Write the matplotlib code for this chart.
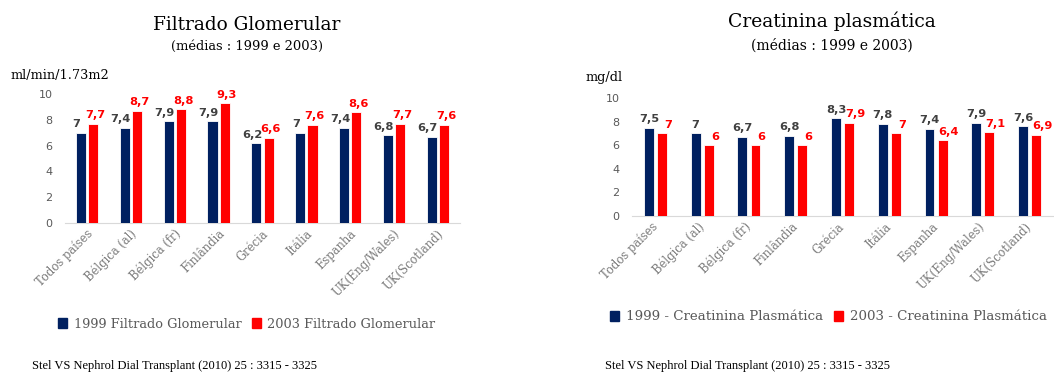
import matplotlib
matplotlib.use("Agg")
import matplotlib.pyplot as plt
from matplotlib.patches import Patch
import numpy as np

categories = ["Todos países", "Bélgica (al)", "Bélgica (fr)", "Finlândia", "Grécia",
              "Itália", "Espanha", "UK(Eng/Wales)", "UK(Scotland)"]

fg_1999 = [7.0, 7.4, 7.9, 7.9, 6.2, 7.0, 7.4, 6.8, 6.7]
fg_2003 = [7.7, 8.7, 8.8, 9.3, 6.6, 7.6, 8.6, 7.7, 7.6]

cr_1999 = [7.5, 7.0, 6.7, 6.8, 8.3, 7.8, 7.4, 7.9, 7.6]
cr_2003 = [7.0, 6.0, 6.0, 6.0, 7.9, 7.0, 6.4, 7.1, 6.9]

yticks = [0, 2, 4, 6, 8, 10]

NAVY = "#002060"
RED = "#FF0000"
GREY_TXT = "#595959"
SERIF = "DejaVu Serif"

W, H = 1054, 372
fig = plt.figure(figsize=(W / 100, H / 100), dpi=100)


def px_axes(x0, x1, y_top, y_bottom):
    return fig.add_axes([x0 / W, 1 - y_bottom / H, (x1 - x0) / W, (y_bottom - y_top) / H])


def fmt(v):
    s = f"{v:.1f}".replace(".", ",")
    return s[:-2] if s.endswith(",0") else s


def draw_panel(ax, a, b, width, off, lab_dx, tick_shift):
    x = np.arange(len(categories))
    ax.bar(x - off, a, width, color=NAVY, edgecolor="white", linewidth=0.6, zorder=3)
    ax.bar(x + off, b, width, color=RED, edgecolor="white", linewidth=0.6, zorder=3)
    for xi, va, vb in zip(x, a, b):
        ax.annotate(fmt(va), (xi - off, va), xytext=(lab_dx[0], 2.5), textcoords="offset points",
                    ha="center", va="bottom", fontsize=8.2, fontweight="bold", color="#404040",
                    annotation_clip=False)
        ax.annotate(fmt(vb), (xi + off, vb), xytext=(lab_dx[1], 2.5), textcoords="offset points",
                    ha="center", va="bottom", fontsize=8.2, fontweight="bold", color=RED,
                    annotation_clip=False)
    ax.set_xlim(-0.5, len(categories) - 0.5)
    ax.set_ylim(0, 10)
    ax.set_yticks(yticks)
    ax.tick_params(axis="y", length=0, labelsize=8, labelcolor=GREY_TXT, pad=9)
    ax.tick_params(axis="x", length=0, pad=3)
    ax.set_xticks(x + tick_shift)
    ax.set_xticklabels(categories, rotation=45, ha="right", rotation_mode="anchor",
                       fontsize=8.3, color="#7a7a7a", family=SERIF)
    for s in ["top", "right", "left"]:
        ax.spines[s].set_visible(False)
    ax.spines["bottom"].set_color("#d9d9d9")
    ax.set_facecolor("none")


# Left panel: glomerular filtration
ax1 = px_axes(65, 460, 94, 223)
draw_panel(ax1, fg_1999, fg_2003, 0.23, 0.14, (-3, 1.5), -0.02)

# Right panel: plasma creatinine
ax2 = px_axes(632, 1053, 98, 216)
draw_panel(ax2, cr_1999, cr_2003, 0.21, 0.14, (0, 4.5), -0.1)

# Titles and units
fig.text(247 / W, 1 - 25 / H, "Filtrado Glomerular", ha="center", va="center",
         fontsize=13.3, family=SERIF, color="black")
fig.text(247 / W, 1 - 46 / H, "(médias : 1999 e 2003)", ha="center", va="center",
         fontsize=9.4, family=SERIF, color="black")
fig.text(10 / W, 1 - 75 / H, "ml/min/1.73m2", ha="left", va="center",
         fontsize=9.3, family=SERIF, color="black")

fig.text(832 / W, 1 - 21 / H, "Creatinina plasmática", ha="center", va="center",
         fontsize=13.5, family=SERIF, color="black")
fig.text(832 / W, 1 - 46 / H, "(médias : 1999 e 2003)", ha="center", va="center",
         fontsize=10, family=SERIF, color="black")
fig.text(585 / W, 1 - 78 / H, "mg/dl", ha="left", va="center",
         fontsize=9.3, family=SERIF, color="black")

# Legends
leg_kw = dict(frameon=False, ncol=2, handlelength=0.7, handleheight=0.7, handletextpad=0.5,
              columnspacing=0.8, labelcolor=GREY_TXT,
              loc="center left", borderaxespad=0, borderpad=0)
fig.legend(handles=[Patch(color=NAVY, label="1999 Filtrado Glomerular"),
                    Patch(color=RED, label="2003 Filtrado Glomerular")],
           bbox_to_anchor=(58 / W, 1 - 324 / H), prop={"family": SERIF, "size": 9.3}, **leg_kw)
fig.legend(handles=[Patch(color=NAVY, label="1999 - Creatinina Plasmática"),
                    Patch(color=RED, label="2003 - Creatinina Plasmática")],
           bbox_to_anchor=(610 / W, 1 - 317 / H), prop={"family": SERIF, "size": 9.6}, **leg_kw)

# Source notes
src = "Stel VS Nephrol Dial Transplant (2010) 25 : 3315 - 3325"
fig.text(32 / W, 1 - 366 / H, src, ha="left", va="center", fontsize=9,
         family="Liberation Serif", color="black")
fig.text(605 / W, 1 - 366 / H, src, ha="left", va="center", fontsize=9,
         family="Liberation Serif", color="black")

fig.savefig("out.png", dpi=100, facecolor="white")
